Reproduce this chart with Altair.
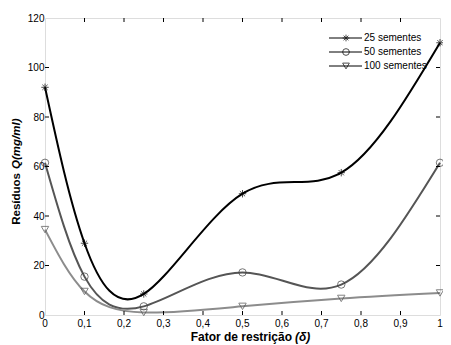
import altair as alt
import pandas as pd

# ---- data ----
x_vals = [0, 0.1, 0.25, 0.5, 0.75, 1]
s25 = [92, 29, 8.5, 49, 57.5, 110]
s50 = [61.5, 15.5, 3.5, 17.2, 12.3, 61.5]
s100 = [34.5, 9.5, 1.0, 3.5, 6.7, 8.9]
series = ["25 sementes", "50 sementes", "100 sementes"]
colors = ["#000000", "#555555", "#8c8c8c"]
marker_colors = ["#000000", "#3c3c3c", "#505050"]
x_ticks = [0, 0.1, 0.2, 0.3, 0.4, 0.5, 0.6, 0.7, 0.8, 0.9, 1]
x_tick_labels = ["0", "0,1", "0,2", "0,3", "0,4", "0,5", "0,6", "0,7", "0,8", "0,9", "1"]
y_ticks = [0, 20, 40, 60, 80, 100, 120]

W, H = 395, 297
FONT = "Liberation Sans"

star = "M0,-1V1M-1,0H1M-0.7,-0.7L0.7,0.7M-0.7,0.7L0.7,-0.7"
shapes = [star, "circle", "triangle-down"]

rows = []
for name, vals in zip(series, [s25, s50, s100]):
    for xv, yv in zip(x_vals, vals):
        rows.append({"x": xv, "y": yv, "serie": name})
df = pd.DataFrame(rows)

xs = alt.Scale(domain=[0, 1], nice=False)
ys = alt.Scale(domain=[0, 120], nice=False)
cs = alt.Scale(domain=series, range=colors)
ms = alt.Scale(domain=series, range=marker_colors)
ss = alt.Scale(domain=series, range=shapes)

base = alt.Chart(df)

lines = base.mark_line(interpolate="natural", strokeWidth=2).encode(
    x=alt.X("x:Q", scale=xs, axis=None),
    y=alt.Y("y:Q", scale=ys,
            axis=alt.Axis(values=y_ticks, title=None, domain=False, grid=False,
                          ticks=False, labelPadding=1, labelFontSize=10,
                          labelOverlap=False, labelFont=FONT, labelColor="#000")),
    color=alt.Color("serie:N", scale=cs, legend=None),
    detail="serie:N",
)

points = base.mark_point(filled=False, strokeWidth=1, size=55).encode(
    x=alt.X("x:Q", scale=xs, axis=None),
    y=alt.Y("y:Q", scale=ys),
    stroke=alt.Stroke("serie:N", scale=ms, legend=None),
    shape=alt.Shape("serie:N", scale=ss, legend=None),
)

# x tick labels
xl = pd.DataFrame({"t": x_ticks, "lab": x_tick_labels})
x_labels = alt.Chart(xl).mark_text(baseline="top", align="center", fontSize=10,
                                   font=FONT, color="#000").encode(
    x=alt.X("t:Q", scale=xs, axis=None), y=alt.value(H + 4), text="lab:N")

# inward ticks on all four sides
xt = pd.DataFrame({"t": x_ticks[1:-1]})
yt = pd.DataFrame({"t": y_ticks[1:-1]})
tick_b = alt.Chart(xt).mark_rule(color="#000", strokeWidth=1).encode(
    x=alt.X("t:Q", scale=xs, axis=None), y=alt.value(H), y2=alt.value(H - 4))
tick_t = alt.Chart(xt).mark_rule(color="#000", strokeWidth=1).encode(
    x=alt.X("t:Q", scale=xs, axis=None), y=alt.value(0), y2=alt.value(4))
tick_l = alt.Chart(yt).mark_rule(color="#000", strokeWidth=1).encode(
    y=alt.Y("t:Q", scale=ys), x=alt.value(0), x2=alt.value(4))
tick_r = alt.Chart(yt).mark_rule(color="#000", strokeWidth=1).encode(
    y=alt.Y("t:Q", scale=ys), x=alt.value(W), x2=alt.value(W - 4))

# legend
leg = pd.DataFrame({"serie": series, "ly": [20, 34, 48]})
leg_line = alt.Chart(leg).mark_rule(color="#000", strokeWidth=1).encode(
    x=alt.value(284), x2=alt.value(317), y=alt.Y("ly:Q", scale=None))
leg_pt = alt.Chart(leg).mark_point(filled=False, strokeWidth=1, size=45, color="#000").encode(
    x=alt.value(301), y=alt.Y("ly:Q", scale=None),
    shape=alt.Shape("serie:N", scale=ss, legend=None))
leg_txt = alt.Chart(leg).mark_text(align="left", baseline="middle", fontSize=10,
                                   font=FONT, color="#000").encode(
    x=alt.value(319), y=alt.Y("ly:Q", scale=None), text="serie:N")

# axis titles (bold, with italic part)
tdf = pd.DataFrame({"a": [0]})
xt1 = alt.Chart(tdf).mark_text(text="Fator de restrição", align="right", baseline="middle",
                               fontSize=12, fontWeight="bold", font=FONT, color="#000").encode(
    x=alt.value(247), y=alt.value(H + 22))
xt2 = alt.Chart(tdf).mark_text(text="(δ)", align="left", baseline="middle",
                               fontSize=12, fontWeight="bold", fontStyle="italic",
                               font=FONT, color="#000").encode(
    x=alt.value(250), y=alt.value(H + 22))
yt1 = alt.Chart(tdf).mark_text(text="Resíduos", align="right", baseline="middle", angle=270,
                               fontSize=11.5, fontWeight="bold", font=FONT, color="#000").encode(
    x=alt.value(-28), y=alt.value(155))
yt2 = alt.Chart(tdf).mark_text(text="Q(mg/ml)", align="left", baseline="middle", angle=270,
                               fontSize=11.5, fontWeight="bold", fontStyle="italic",
                               font=FONT, color="#000").encode(
    x=alt.value(-28), y=alt.value(151))

chart = alt.layer(
    lines, points, x_labels, tick_b, tick_t, tick_l, tick_r,
    leg_line, leg_pt, leg_txt, xt1, xt2, yt1, yt2
).resolve_scale(shape="shared").properties(
    width=W, height=H,
    autosize=alt.AutoSizeParams(type="none"),
    padding={"left": 37, "top": 10, "right": 3, "bottom": 30},
).configure_view(stroke="#000", strokeWidth=1.2).configure(background="white")

chart.save("out.html", embed_options={"renderer": "svg", "actions": False})
